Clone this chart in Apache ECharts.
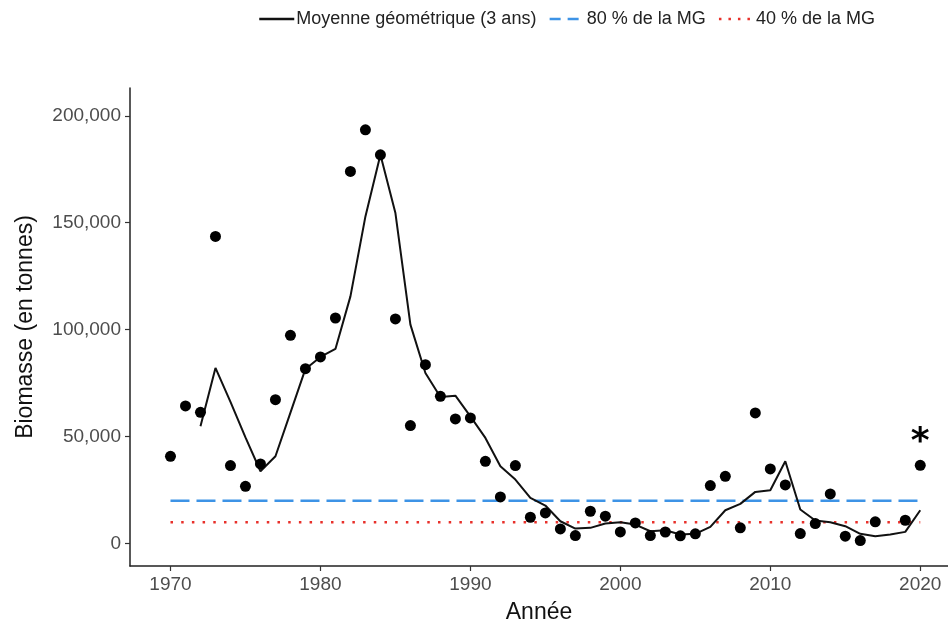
<!DOCTYPE html>
<html>
<head>
<meta charset="utf-8">
<title>Biomasse</title>
<script src="https://cdn.jsdelivr.net/npm/echarts@6/dist/echarts.min.js"></script>
<style>
  * { margin: 0; padding: 0; }
  html, body { width: 100%; height: 100%; background: #fff; }
  #main { width: 948px; height: 631px; }
</style>
</head>
<body>
<div id="main"></div>
<script>
// indices annuels de biomasse (points)
var pointYears = [1970, 1971, 1972, 1973, 1974, 1975, 1976, 1977, 1978, 1979,
  1980, 1981, 1982, 1983, 1984, 1985, 1986, 1987, 1988, 1989,
  1990, 1991, 1992, 1993, 1994, 1995, 1996, 1997, 1998, 1999,
  2000, 2001, 2002, 2003, 2004, 2005, 2006, 2007, 2008, 2009,
  2010, 2011, 2012, 2013, 2014, 2015, 2016, 2017, 2019, 2020];
var biomasse = [40800, 64350, 61360, 143600, 36450, 26780, 37240, 67290, 97350, 81780,
  87230, 105460, 173980, 193460, 181780, 105000, 55140, 83650, 68840, 58270,
  58740, 38460, 21820, 36450, 12290, 14330, 6850, 3740, 15100, 12770,
  5450, 9660, 3740, 5400, 3600, 4530, 27100, 31450, 7330, 61060,
  34890, 27410, 4670, 9350, 23210, 3430, 1400, 10140, 10890, 36590];

// moyenne geometrique sur 3 ans (ligne)
var mgYears = [1972, 1973, 1974, 1975, 1976, 1977, 1978, 1979, 1980, 1981,
  1982, 1983, 1984, 1985, 1986, 1987, 1988, 1989, 1990, 1991,
  1992, 1993, 1994, 1995, 1996, 1997, 1998, 1999, 2000, 2001,
  2002, 2003, 2004, 2005, 2006, 2007, 2008, 2009, 2010, 2011,
  2012, 2013, 2014, 2015, 2016, 2017, 2018, 2019, 2020];
var moyenneGeo = [54800, 82100, 66200, 49600, 33800, 40800, 61200, 81640, 87230, 91000,
  115570, 152950, 181780, 154540, 102340, 79770, 68550, 69160, 59490, 49390,
  36120, 29910, 21350, 17760, 10420, 7010, 7330, 9350, 9970, 8880,
  5750, 6200, 4200, 4530, 7790, 15580, 18540, 24150, 24920, 38460,
  15890, 10750, 9970, 8100, 4530, 3430, 4200, 5450, 15580];

// seuils
var seuilYears = [1970, 2020];
var seuil80 = [20000, 20000];
var seuil40 = [10000, 10000];

var xTicks = [1970, 1980, 1990, 2000, 2010, 2020];
var yTicks = [0, 50000, 100000, 150000, 200000];

var legendNames = ['Moyenne géométrique (3 ans)', '80 % de la MG', '40 % de la MG'];
var asteriskYear = 2020;

function pairs(xs, ys) {
  return xs.map(function (x, i) { return [x, ys[i]]; });
}

var pointData = pairs(pointYears, biomasse).map(function (p) {
  if (p[0] === asteriskYear) {
    return {
      value: p,
      label: {
        show: true, formatter: '*', position: 'top', distance: -1,
        fontSize: 36, fontWeight: 'bold', color: '#000', fontFamily: 'DejaVu Sans'
      }
    };
  }
  return p;
});

var chart = echarts.init(document.getElementById('main'), null, { renderer: 'canvas' });

var axisText = { color: '#4d4d4d', fontSize: 19, fontFamily: 'Liberation Sans' };
var nameText = { color: '#111', fontSize: 23, fontFamily: 'Liberation Sans' };

chart.setOption({
  animation: false,
  textStyle: { fontFamily: 'Liberation Sans' },
  legend: {
    data: [
      { name: legendNames[0], lineStyle: { type: 'solid', width: 2.5 } },
      { name: legendNames[1], lineStyle: { type: [11, 7], width: 2.5 } },
      { name: legendNames[2], lineStyle: { type: [2.5, 7], width: 2.5 } }
    ],
    top: 5,
    left: 253,
    itemWidth: 35,
    itemHeight: 14,
    itemGap: 12,
    itemStyle: { opacity: 0 },
    textStyle: { color: '#222', fontSize: 18, fontFamily: 'Liberation Sans', padding: [0, 0, 0, -3] }
  },
  grid: { left: 130, top: 88, width: 818, height: 478, outerBoundsMode: 'none' },
  xAxis: {
    type: 'value',
    min: 1967.3,
    max: 2021.85,
    name: 'Année',
    nameLocation: 'middle',
    nameGap: 35,
    nameTextStyle: nameText,
    axisLine: { show: true, onZero: false, lineStyle: { color: '#222', width: 1.5 } },
    axisTick: { show: true, length: 5, customValues: xTicks, lineStyle: { color: '#333', width: 1.2 } },
    axisLabel: Object.assign({ margin: 9, customValues: xTicks, formatter: function (v) { return String(v); } }, axisText),
    splitLine: { show: false }
  },
  yAxis: {
    type: 'value',
    min: -10500,
    max: 213000,
    name: 'Biomasse (en tonnes)',
    nameLocation: 'middle',
    nameGap: 93,
    nameTextStyle: nameText,
    axisLine: { show: true, onZero: false, lineStyle: { color: '#222', width: 1.5 } },
    axisTick: { show: true, length: 5, customValues: yTicks, lineStyle: { color: '#333', width: 1.2 } },
    axisLabel: Object.assign({
      margin: 9, customValues: yTicks,
      formatter: function (v) { return v.toLocaleString('en-US'); }
    }, axisText),
    splitLine: { show: false }
  },
  series: [
    {
      name: legendNames[0],
      type: 'line',
      data: pairs(mgYears, moyenneGeo),
      symbol: 'none',
      lineStyle: { color: '#111', width: 2 },
      itemStyle: { color: '#111' },
      z: 3
    },
    {
      name: legendNames[1],
      type: 'line',
      data: pairs(seuilYears, seuil80),
      symbol: 'none',
      lineStyle: { color: '#3d93e6', width: 2.5, type: [19, 7] },
      itemStyle: { color: '#3d93e6' },
      z: 2
    },
    {
      name: legendNames[2],
      type: 'line',
      data: pairs(seuilYears, seuil40),
      symbol: 'none',
      lineStyle: { color: '#e8302a', width: 2.5, type: [2.5, 8.2] },
      itemStyle: { color: '#e8302a' },
      z: 2
    },
    {
      name: 'Biomasse',
      type: 'scatter',
      data: pointData,
      symbol: 'circle',
      symbolSize: 11,
      itemStyle: { color: '#000', opacity: 1 },
      z: 4
    }
  ]
});
</script>
</body>
</html>
